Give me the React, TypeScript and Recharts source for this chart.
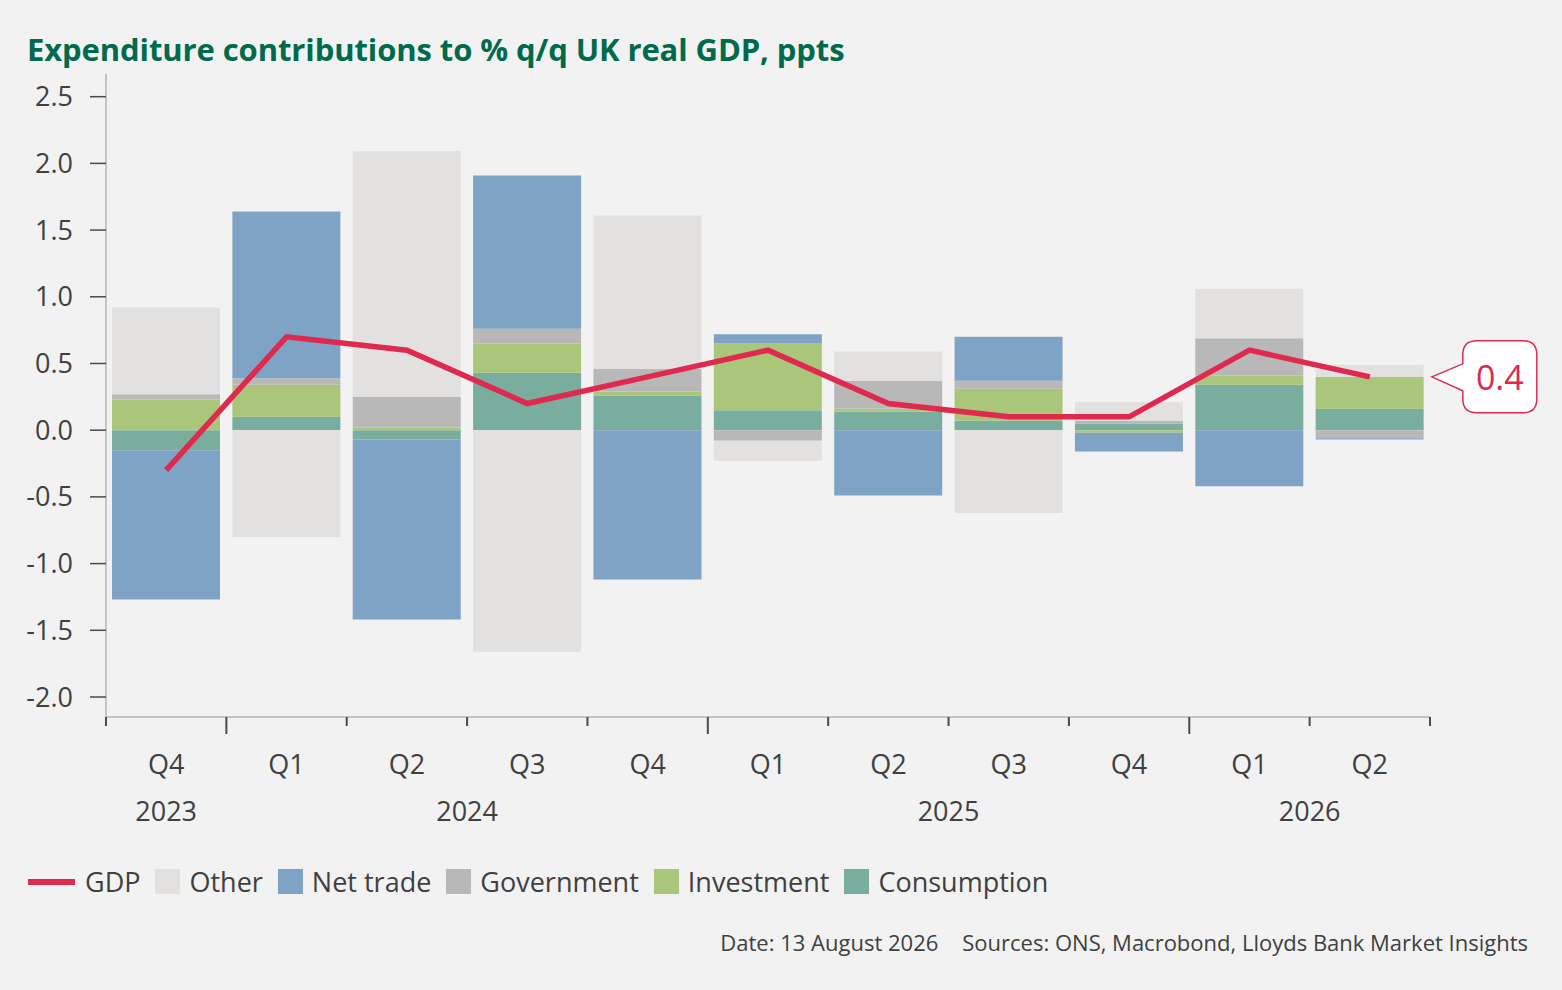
import React from 'react';
import { ComposedChart, Bar, Line, XAxis, YAxis, LabelList } from 'recharts';

const quarters = ['Q4', 'Q1', 'Q2', 'Q3', 'Q4', 'Q1', 'Q2', 'Q3', 'Q4', 'Q1', 'Q2'];
const years = ['2023', '2024', '2024', '2024', '2024', '2025', '2025', '2025', '2025', '2026', '2026'];

const consumption = [-0.15, 0.1, -0.07, 0.43, 0.26, 0.15, 0.14, 0.07, 0.05, 0.34, 0.16];
const investment = [0.23, 0.24, 0.02, 0.22, 0.03, 0.5, 0.02, 0.24, -0.02, 0.07, 0.24];
const government = [0.04, 0.05, 0.23, 0.11, 0.17, -0.08, 0.21, 0.06, 0.02, 0.28, -0.06];
const netTrade = [-1.12, 1.25, -1.35, 1.15, -1.12, 0.07, -0.49, 0.33, -0.14, -0.42, -0.01];
const other = [0.65, -0.8, 1.84, -1.66, 1.15, -0.15, 0.22, -0.62, 0.14, 0.37, 0.09];
const gdp = [-0.3, 0.7, 0.6, 0.2, 0.4, 0.6, 0.2, 0.1, 0.1, 0.6, 0.4];

const yTicks = [-2, -1.5, -1, -0.5, 0, 0.5, 1, 1.5, 2, 2.5];

const COLORS = {
  gdp: '#e0294f',
  other: '#e2e1df',
  netTrade: '#7fa3c4',
  government: '#b8b8b8',
  investment: '#aac67b',
  consumption: '#79ae9f',
};

const FONT = "'Open Sans', 'Noto Sans', sans-serif";
const TEXT = '#404040';

const data = quarters.map((q, i) => ({
  label: `${q} ${years[i]}`,
  pos: i,
  consumption: consumption[i],
  investment: investment[i],
  government: government[i],
  netTrade: netTrade[i],
  other: other[i],
  gdp: gdp[i],
}));

// boundaries between quarters, and where a new year starts
const boundaries = quarters.map((_, i) => i).concat([quarters.length]);
const yearStarts = years.map((y, i) => (i > 0 && y !== years[i - 1] ? i : -1)).filter((i) => i >= 0);

// year labels sit in the middle of the quarters they cover
const yearNames = Array.from(new Set(years));
const yearCenters = yearNames.map((y) => {
  const idx = years.map((v, i) => (v === y ? i : -1)).filter((i) => i >= 0);
  return (idx[0] + idx[idx.length - 1] + 1) / 2;
});

const legendItems = [
  { name: 'GDP', color: COLORS.gdp, line: true },
  { name: 'Other', color: COLORS.other },
  { name: 'Net trade', color: COLORS.netTrade },
  { name: 'Government', color: COLORS.government },
  { name: 'Investment', color: COLORS.investment },
  { name: 'Consumption', color: COLORS.consumption },
];

function BoundaryTick(props: any) {
  const { x, y, payload } = props;
  const long = yearStarts.includes(payload.value);
  return <line x1={x} x2={x} y1={y} y2={y + (long ? 17 : 9)} stroke="#4a4a4a" strokeWidth={2} />;
}

function QuarterTick(props: any) {
  const { x, y, payload } = props;
  return (
    <text x={x} y={y} dy={37} textAnchor="middle" fill={TEXT} fontSize={27} fontFamily={FONT}>
      {String(payload.value).split(' ')[0]}
    </text>
  );
}

function YearTick(props: any) {
  const { x, y, payload } = props;
  return (
    <text x={x} y={y} dy={37} textAnchor="middle" fill={TEXT} fontSize={27} fontFamily={FONT}>
      {yearNames[yearCenters.indexOf(payload.value)]}
    </text>
  );
}

function Callout(props: any) {
  const { x, y, index, value } = props;
  if (index !== data.length - 1) return null;
  const tip = x + 62;
  const left = tip + 31;
  const w = 74;
  const h = 72;
  const top = y - 36;
  const r = 14;
  const d = [
    `M ${tip} ${y}`,
    `L ${left} ${y - 13}`,
    `L ${left} ${top + r}`,
    `Q ${left} ${top} ${left + r} ${top}`,
    `L ${left + w - r} ${top}`,
    `Q ${left + w} ${top} ${left + w} ${top + r}`,
    `L ${left + w} ${top + h - r}`,
    `Q ${left + w} ${top + h} ${left + w - r} ${top + h}`,
    `L ${left + r} ${top + h}`,
    `Q ${left} ${top + h} ${left} ${top + h - r}`,
    `L ${left} ${y + 14}`,
    'Z',
  ].join(' ');
  return (
    <g>
      <path d={d} fill="#ffffff" stroke={COLORS.gdp} strokeWidth={1.5} />
      <text x={left + w / 2} y={y + 13} textAnchor="middle" fill={COLORS.gdp} fontSize={34} fontFamily={FONT}>
        {Number(value).toFixed(1)}
      </text>
    </g>
  );
}

export default function App() {
  return (
    <div
      style={{
        position: 'absolute',
        left: 0,
        top: 0,
        width: 1562,
        height: 990,
        background: '#f2f2f2',
        fontFamily: FONT,
        overflow: 'hidden',
      }}
    >
      <div
        style={{
          position: 'absolute',
          left: 27,
          top: 29,
          fontFamily: FONT,
          fontWeight: 700,
          fontSize: 31,
          lineHeight: '40px',
          color: '#006a4d',
          whiteSpace: 'nowrap',
          letterSpacing: -0.1,
        }}
      >
        Expenditure contributions to % q/q UK real GDP, ppts
      </div>

      <div style={{ position: 'absolute', left: 0, top: 0 }}>
        <ComposedChart
          width={1562}
          height={850}
          data={data}
          stackOffset="sign"
          barCategoryGap="5%"
          margin={{ top: 74, right: 132, left: 0, bottom: 16 }}
        >
          <XAxis
            xAxisId="a_ticks"
            type="number"
            dataKey="pos"
            domain={[0, quarters.length]}
            ticks={boundaries}
            interval={0}
            allowDataOverflow
            height={20}
            tickSize={0}
            tickMargin={0}
            tickLine={false}
            axisLine={{ stroke: '#c4c4c4', strokeWidth: 2 }}
            tick={<BoundaryTick />}
          />
          <XAxis
            xAxisId="b_quarters"
            dataKey="label"
            height={47}
            tickSize={0}
            tickMargin={0}
            interval={0}
            axisLine={false}
            tickLine={false}
            tick={<QuarterTick />}
          />
          <XAxis
            xAxisId="c_years"
            type="number"
            dataKey="pos"
            domain={[0, quarters.length]}
            ticks={yearCenters}
            interval={0}
            allowDataOverflow
            height={50}
            tickSize={0}
            tickMargin={0}
            axisLine={false}
            tickLine={false}
            tick={<YearTick />}
          />
          <YAxis
            width={106}
            domain={[-2.15, 2.67]}
            ticks={yTicks}
            allowDataOverflow
            tickFormatter={(v: number) => v.toFixed(1)}
            tickSize={16}
            tickMargin={17}
            axisLine={{ stroke: '#c4c4c4', strokeWidth: 2 }}
            tickLine={{ stroke: '#4a4a4a', strokeWidth: 1.5 }}
            tick={{ fill: TEXT, fontSize: 27, fontFamily: FONT }}
          />
          <Bar xAxisId="b_quarters" dataKey="consumption" stackId="a" fill={COLORS.consumption} isAnimationActive={false} />
          <Bar xAxisId="b_quarters" dataKey="investment" stackId="a" fill={COLORS.investment} isAnimationActive={false} />
          <Bar xAxisId="b_quarters" dataKey="government" stackId="a" fill={COLORS.government} isAnimationActive={false} />
          <Bar xAxisId="b_quarters" dataKey="netTrade" stackId="a" fill={COLORS.netTrade} isAnimationActive={false} />
          <Bar xAxisId="b_quarters" dataKey="other" stackId="a" fill={COLORS.other} isAnimationActive={false} />
          <Line
            xAxisId="b_quarters"
            dataKey="gdp"
            type="linear"
            stroke={COLORS.gdp}
            strokeWidth={5.5}
            dot={false}
            activeDot={false}
            isAnimationActive={false}
          >
            <LabelList dataKey="gdp" content={<Callout />} />
          </Line>
        </ComposedChart>
      </div>

      <div
        style={{
          position: 'absolute',
          left: 28,
          top: 863,
          display: 'flex',
          alignItems: 'center',
          fontSize: 27,
          color: TEXT,
          whiteSpace: 'nowrap',
        }}
      >
        {legendItems.map((item) => (
          <div key={item.name} style={{ display: 'flex', alignItems: 'center', marginRight: 15 }}>
            {item.line ? (
              <div style={{ width: 47, height: 6, background: item.color, marginRight: 10 }} />
            ) : (
              <div style={{ width: 25, height: 25, background: item.color, marginRight: 9 }} />
            )}
            <span>{item.name}</span>
          </div>
        ))}
      </div>

      <div
        style={{
          position: 'absolute',
          right: 34,
          top: 927,
          fontSize: 22,
          color: TEXT,
          whiteSpace: 'nowrap',
        }}
      >
        <span>Date: 13 August 2026</span>
        <span style={{ marginLeft: 24 }}>Sources: ONS, Macrobond, Lloyds Bank Market Insights</span>
      </div>
    </div>
  );
}
